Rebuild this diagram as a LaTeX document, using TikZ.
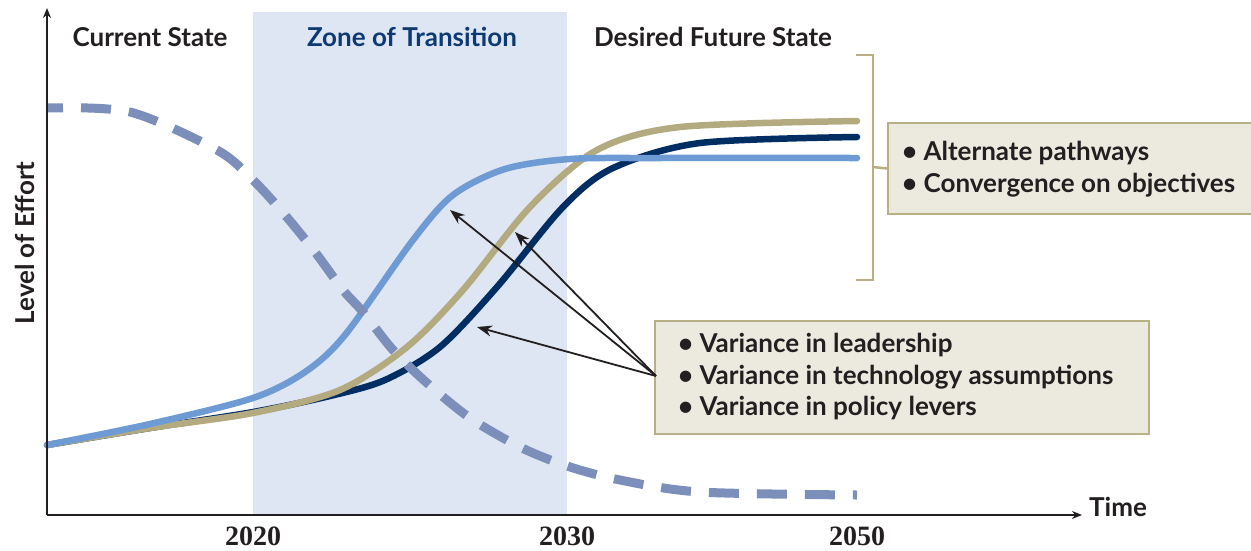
\documentclass[tikz,border=0pt]{standalone}
\usepackage{fontspec}
\setsansfont{Lato}
\newfontfamily\yearfont{Liberation Serif}
\usetikzlibrary{arrows.meta}
\definecolor{lblue}{HTML}{6E9BD4}
\definecolor{tanc}{HTML}{B3AA7F}
\definecolor{navy}{HTML}{002D62}
\definecolor{dashb}{HTML}{7B8FBA}
\definecolor{zone}{HTML}{DEE6F3}
\definecolor{boxfill}{HTML}{ECE9DF}
\definecolor{boxline}{HTML}{B8AF86}
\definecolor{ink}{HTML}{231F20}
\definecolor{zonetext}{HTML}{0E3A73}
\tikzset{
  lbl/.style={font=\sffamily\bfseries\fontsize{26}{30}\selectfont, text=ink, inner sep=0pt},
  yr/.style={font=\yearfont\bfseries\fontsize{28}{30}\selectfont, text=ink, inner sep=0pt},
  curve/.style={line width=6.5pt, line cap=round},
  infobox/.style={draw=boxline, line width=2pt, fill=boxfill, anchor=north west, inner sep=0pt},
  infotext/.style={font=\sffamily\bfseries\fontsize{26}{31.5}\selectfont, text=ink, align=left, anchor=west, inner sep=0pt},
  pointer/.style={draw=ink, line width=1.8pt, -{Stealth[length=15pt,width=11pt]}},
  axis/.style={draw=ink, line width=2pt, -{Stealth[length=10pt,width=8pt]}}
}
\begin{document}
\begin{tikzpicture}[x=1pt,y=-1pt]
\useasboundingbox (0,0) rectangle (1251,550);
% zone
\fill[zone] (253,12) rectangle (567,515);
% labels
\node[lbl] (cur) at (150,37) {Current State};
\node[lbl, text=zonetext] (zot) at (412,37) {Zone of Transition};
\node[lbl] (des) at (713,37) {Desired Future State};
\node[lbl, rotate=90] (loe) at (25,243) {Level of Effort};
\node[lbl, anchor=west] (time) at (1089,507) {Time};
\node[yr] (y20) at (253,536) {2020};
\node[yr] (y30) at (567,536) {2030};
\node[yr] (y50) at (857,536) {2050};
% curves
\draw[curve, navy] plot[smooth, tension=0.5] coordinates {(47,445) (150,428) (253,412) (330,396) (385,380) (440,347) (497,287) (563,207) (613,168) (700,143) (857,137)};
\draw[curve, tanc] plot[smooth, tension=0.5] coordinates {(47,445) (150,428) (253,413) (340,390) (407,347) (463,290) (530,207) (597,150) (680,127) (857,121)};
\draw[curve, lblue] plot[smooth, tension=0.5] coordinates {(47,445) (150,424) (253,398) (305,372) (345,335) (413,240) (453,195) (505,169) (570,159) (660,158) (857,158)};
% dashed
\draw[dashb, line width=9pt, dash pattern=on 30pt off 18pt, dash phase=14pt] plot[smooth, tension=0.5] coordinates {(47,108) (130,112) (217,150) (253,180) (285,215) (315,252) (343,290) (363,312) (393,350) (427,383) (470,418) (520,447) (567,466) (620,480) (700,492) (857,495)};
% axes
\coordinate (orig) at (47,515);
\coordinate (ytop) at (47,8);
\coordinate (xend) at (1082,515);
\draw[axis] (orig) -- (ytop);
\draw[axis] (orig) -- (xend);
% bracket
\coordinate (bt) at (856,55);
\coordinate (btr) at (873,55);
\coordinate (bbr) at (873,280);
\coordinate (bb) at (856,280);
\coordinate (bm) at (873,167);
\draw[boxline, line width=2.5pt] (bt) -- (btr) -- (bbr) -- (bb);
% boxes
\node[infobox, minimum width=494pt, minimum height=113pt] (vbox) at (654,320) {};
\node[infotext] (vtext) at (678,377) {\textbullet\ Variance in leadership\\\textbullet\ Variance in technology assumptions\\\textbullet\ Variance in policy levers};
\node[infobox, minimum width=370pt, minimum height=91pt] (abox) at (887,122) {};
\node[infotext] (atext) at (902,169) {\textbullet\ Alternate pathways\\\textbullet\ Convergence on objectives};
\draw[boxline, line width=2.5pt] (bm) -- (abox.west);
% pointers
\coordinate (src) at (656,376);
\coordinate (tb) at (450,210);
\coordinate (tt) at (515,232);
\coordinate (tn) at (477,327);
\draw[pointer] (src) -- (tb);
\draw[pointer] (src) -- (tt);
\draw[pointer] (src) -- (tn);
\end{tikzpicture}
\end{document}
